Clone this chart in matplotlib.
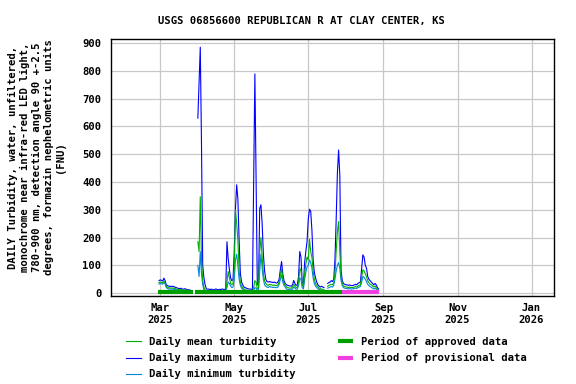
import numpy as np
import pandas as pd
import matplotlib
matplotlib.use("Agg")
import matplotlib.pyplot as plt
import matplotlib.dates as mdates

nan = np.nan

# daily values, 2025-02-28 .. 2025-08-28 (FNU)
start_day = "2025-02-28"

turb_max = [45, 48, 46, 44, 54, 45, 30, 27, 25, 25, 24, 25, 24, 22, 20, 19, 17, 16, 18, 15, 14, 16, 15, 13, 12, 12, 10,
            nan, nan, nan, nan, nan,
            630, 757, 885, 537, 100, 55, 30,
            16, 14, 15, 12, 15, 13, 12, 14, 15, 13, 12, 14, 13, 15, 14, 13,
            16, 185, 125, 85, 55, 45,
            50, 150, 306, 390, 338, 192, 73, 40, 30, 22,
            20, 18, 16, 15, 15, 14, 14,
            401, 789, 413, 30, 32,
            305, 318, 250, 140, 80, 50, 42, 40,
            42, 40, 40, 38, 40, 38, 36, 40,
            50, 85, 114, 70, 45, 35,
            30, 28, 27, 26, 25, 30,
            46, 35, 28, 30,
            60, 150, 130, 40, 30,
            110, 150, 186, 266, 302, 295, 228, 120, 75, 55, 40, 30, 25, 22,
            25, 22, 20,
            nan, nan,
            35, 38, 40, 45, 42, 50,
            120, 264, 431, 515, 425, 84, 45,
            35, 32, 30, 30, 28, 30, 28, 27, 28, 30, 32, 30, 35, 38, 40,
            90, 138, 130, 100, 90, 60, 50, 45, 40, 35, 30, 35, 30, 20, 15]

turb_mean = [38, 40, 39, 37, 44, 38, 24, 21, 19, 19, 18, 19, 18, 17, 15, 14, 13, 12, 13, 11, 10, 12, 11, 10, 9, 9, 8,
             nan, nan, nan, nan, nan,
             185, 150, 347, 120, 45, 22, 12,
             7, 6, 7, 6, 7, 6, 6, 7, 7, 6, 6, 7, 6, 7, 7, 6,
             8, 40, 78, 55, 35, 30,
             35, 90, 300, 250, 190, 80, 40, 25, 20, 15,
             12, 11, 10, 10, 9, 9, 9,
             20, 45, 40, 15, 20,
             150, 200, 130, 70, 45, 35, 30, 28,
             32, 30, 30, 28, 30, 28, 27, 30,
             40, 65, 85, 55, 35, 28,
             22, 20, 19, 18, 18, 22,
             32, 25, 20, 22,
             40, 90, 80, 30, 22,
             70, 105, 130, 120, 195, 150, 130, 80, 50, 35, 28, 22, 18, 16,
             15, 13, 12,
             nan, nan,
             25, 28, 30, 32, 30, 38,
             70, 150, 220, 258, 150, 60, 35,
             26, 24, 22, 22, 20, 22, 20, 20, 21, 22, 24, 22, 26, 28, 30,
             60, 84, 80, 70, 60, 45, 38, 32, 30, 26, 22, 26, 20, 14, 10]

turb_min = [33, 35, 34, 32, 40, 33, 20, 17, 15, 15, 14, 15, 14, 13, 12, 11, 10, 9, 10, 8, 7, 9, 8, 7, 6, 6, 5,
            nan, nan, nan, nan, nan,
            100, 60, 150, 70, 30, 12, 8,
            4, 3, 4, 3, 4, 3, 3, 4, 4, 3, 3, 4, 3, 4, 4, 3,
            5, 20, 40, 35, 25, 20,
            22, 50, 120, 140, 100, 50, 28, 18, 14, 10,
            8, 7, 6, 6, 6, 6, 6,
            10, 20, 18, 8, 10,
            80, 140, 90, 50, 30, 25, 22, 20,
            24, 22, 22, 20, 22, 20, 20, 22,
            32, 50, 65, 40, 28, 22,
            15, 14, 13, 12, 12, 15,
            22, 18, 14, 15,
            28, 55, 50, 20, 15,
            50, 75, 95, 100, 120, 110, 90, 55, 35, 25, 20, 16, 13, 12,
            10, 9, 8,
            nan, nan,
            18, 20, 22, 24, 22, 28,
            50, 80, 100, 110, 90, 45, 28,
            20, 18, 17, 17, 15, 17, 15, 15, 16, 17, 18, 17, 20, 22, 24,
            40, 60, 58, 50, 42, 32, 27, 24, 21, 18, 15, 18, 14, 10, 8]

approved_periods = [("2025-02-27", "2025-03-28"), ("2025-03-30", "2025-07-28 12:00")]
provisional_periods = [("2025-07-28 12:00", "2025-08-28")]

days = pd.date_range(start_day, periods=len(turb_max), freq="D")

mono = "DejaVu Sans Mono"
fs = 7.6
plt.rcParams["font.family"] = mono
plt.rcParams["font.weight"] = "bold"
plt.rcParams["font.size"] = fs

fig = plt.figure(figsize=(5.76, 3.84), dpi=100)
ax = fig.add_axes([0.192, 0.230, 0.770, 0.668])

c_mean = "#00b000"
c_max = "#0000ff"
c_min = "#0088dd"
c_appr = "#009f00"
c_prov = "#f040e0"

l_max, = ax.plot(days, turb_max, color=c_max, lw=0.8, label="Daily maximum turbidity")
l_min, = ax.plot(days, turb_min, color=c_min, lw=0.8, label="Daily minimum turbidity")
l_mean, = ax.plot(days, turb_mean, color=c_mean, lw=0.8, label="Daily mean turbidity")

for a, b in approved_periods:
    l_appr, = ax.plot([pd.Timestamp(a), pd.Timestamp(b)], [6, 6], color=c_appr, lw=3.0,
                      solid_capstyle="butt", label="Period of approved data")
for a, b in provisional_periods:
    l_prov, = ax.plot([pd.Timestamp(a), pd.Timestamp(b)], [6, 6], color=c_prov, lw=3.0,
                      solid_capstyle="butt", label="Period of provisional data")

ax.set_xlim(pd.Timestamp("2025-01-19 02:00"), pd.Timestamp("2026-01-19 15:00"))
ax.set_ylim(-9, 914)
ax.set_yticks(np.arange(0, 901, 100))
ax.xaxis.set_major_locator(mdates.MonthLocator(bymonth=[1, 3, 5, 7, 9, 11]))
ax.xaxis.set_major_formatter(mdates.DateFormatter("%b\n%Y"))
ax.tick_params(length=0, labelsize=fs)
ax.tick_params(axis="y", pad=6.5)
ax.tick_params(axis="x", pad=5.5)
ax.grid(True, color="#c8c8c8", lw=0.9)
ax.set_axisbelow(True)
for s in ax.spines.values():
    s.set_linewidth(1.0)
    s.set_color("black")

fig.text(0.523, 0.946, "USGS 06856600 REPUBLICAN R AT CLAY CENTER, KS",
         ha="center", va="center", fontsize=fs, fontweight="bold")

ylabel = ("DAILY Turbidity, water, unfiltered,\n"
          "monochrome near infra-red LED light,\n"
          "780-900 nm, detection angle 90 +-2.5\n"
          "degrees, formazin nephelometric units\n"
          "(FNU)")
fig.text(0.064, 1 - 157 / 384, ylabel, rotation=90, ha="center", va="center",
         multialignment="center", fontsize=fs, fontweight="bold", linespacing=1.22)

handles = [l_mean, l_max, l_min, l_appr, l_prov]
fig.legend(handles=handles, labels=[h.get_label() for h in handles],
           loc="upper left", bbox_to_anchor=(0.218, 0.122), ncol=2, frameon=False,
           fontsize=fs, handlelength=1.5, handletextpad=0.7, columnspacing=4.0,
           labelspacing=0.57, borderpad=0, borderaxespad=0)

fig.savefig("out.png", dpi=100)
